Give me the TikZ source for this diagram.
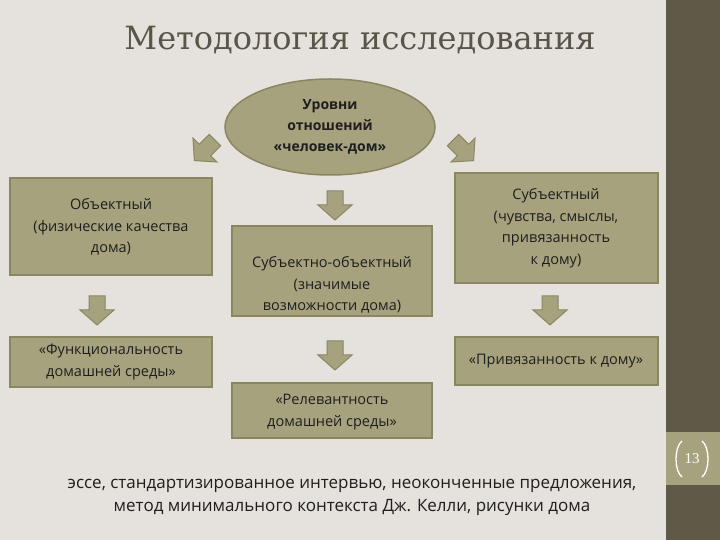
\documentclass[tikz,border=0pt]{standalone}
\usepackage{fontspec}
\setmainfont{Open Sans}
\newfontfamily\titlefont{DejaVu Serif}
\newfontfamily\numfont{Liberation Serif}
\begin{document}
\begin{tikzpicture}[x=1pt,y=1pt,
  box/.style={draw=boxline,line width=1.5pt,fill=boxfill},
  lbl/.style={align=center,font=\fontsize{14.5}{21.5}\selectfont,text=txt},
  barr/.pic={\fill[boxfill,draw=boxline,line width=1pt] (-14,-8)--(0,-8)--(0,-17)--(15,0)--(0,17)--(0,8)--(-14,8)--cycle;}]
\definecolor{bg}{HTML}{E5E1DD}
\definecolor{boxfill}{HTML}{A6A27D}
\definecolor{boxline}{HTML}{8A8662}
\definecolor{txt}{HTML}{1E1E1E}
\definecolor{strip}{HTML}{5F5A48}
\definecolor{ttl}{HTML}{5A5548}
\fill[bg] (0,0) rectangle (720,540);
\useasboundingbox (0,0) rectangle (720,540);
\fill[strip] (666,0) rectangle (720,540);
\fill[boxfill] (666,55) rectangle (720,108);
\node[text=white,font=\numfont\fontsize{15}{15}\selectfont] (num) at (692,81) {13};
\draw[white,line width=1.3pt] (682,99) .. controls (674,93) and (674,69) .. (682,63);
\draw[white,line width=1.3pt] (702,99) .. controls (710,93) and (710,69) .. (702,63);
\node[text=ttl,font=\titlefont\fontsize{32}{36}\selectfont] (title) at (360,500) {Методология исследования};
\filldraw[fill=boxfill,draw=boxline,line width=1.5pt] (330,413) ellipse[x radius=105,y radius=48];
\node[lbl,font=\bfseries\fontsize{14}{21}\selectfont] (e) at (330,413) {Уровни\\отношений\\«человек-дом»};
\draw[box] (10,362) rectangle (212,265);
\node[lbl,anchor=north] (l) at (111,345) {Объектный\\(физические качества\\дома)};
\draw[box] (232,314) rectangle (432,224);
\node[lbl,anchor=north] (m) at (332,287) {Субъектно-объектный\\(значимые\\возможности дома)};
\draw[box] (455,367) rectangle (658,257);
\node[lbl,anchor=north] (r) at (556,355) {Субъектный\\(чувства, смыслы,\\привязанность\\к дому)};
\draw[box] (10,203) rectangle (212,153);
\node[lbl] (bl) at (111,178) {«Функциональность\\домашней среды»};
\draw[box] (455,203) rectangle (658,155);
\node[lbl] (br) at (556,179) {«Привязанность к дому»};
\draw[box] (232,157) rectangle (432,102);
\node[lbl] (bc) at (332,128) {«Релевантность\\домашней среды»};
\pic[rotate=-90] at (97,230) {barr};
\pic[rotate=-90] at (335,335) {barr};
\pic[rotate=-90] at (550,230) {barr};
\pic[rotate=-90] at (335,185) {barr};
\pic[rotate=225] at (205,390) {barr};
\pic[rotate=-45] at (463,390) {barr};
\node[align=center,text=txt,font=\fontsize{17}{23}\selectfont] (foot) at (352,43) {эссе, стандартизированное интервью, неоконченные предложения,\\метод минимального контекста Дж. Келли, рисунки дома};
\end{tikzpicture}
\end{document}
